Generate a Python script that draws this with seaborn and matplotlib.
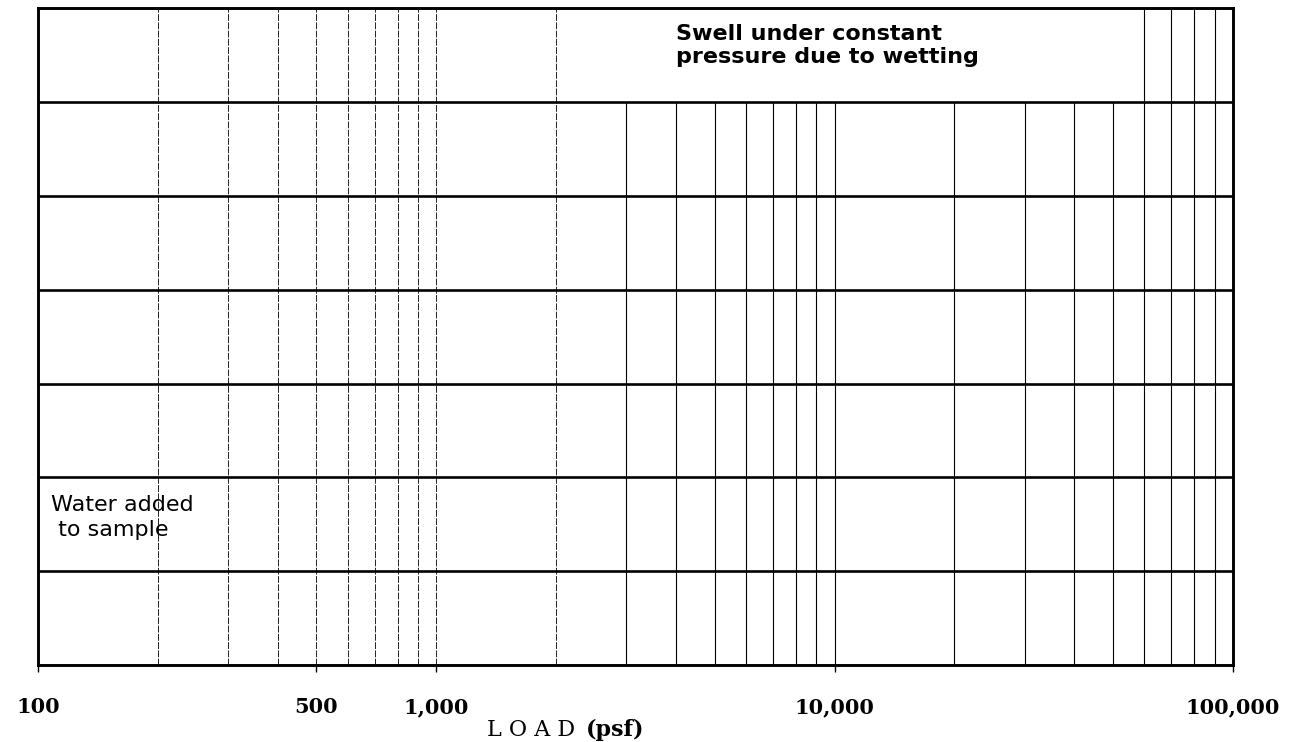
import numpy as np
import matplotlib
matplotlib.use("Agg")
import matplotlib.pyplot as plt
import seaborn as sns

# log-paper grid lines (psf)
minor_lines = [200, 300, 400, 500, 600, 700, 800, 900, 1000,
               2000, 3000, 4000, 5000, 6000, 7000, 8000, 9000, 10000,
               20000, 30000, 40000, 50000, 60000, 70000, 80000, 90000]
# lines hidden behind the note in the top band
hidden_top = [3000, 4000, 5000, 6000, 7000, 8000, 9000, 10000,
              20000, 30000, 40000, 50000]
band_levels = [1, 2, 3, 4, 5, 6]
tick_values = [100, 500, 1000, 10000, 100000]
tick_labels = ["100", "500", "1,000", "10,000", "100,000"]

sns.set_theme(style="white")
plt.rcParams['font.family'] = ['DejaVu Sans']
plt.rcParams['text.color'] = 'black'
plt.rcParams['xtick.color'] = 'black'

fig = plt.figure(figsize=(13.06, 7.42), dpi=100)
ax = fig.add_axes([0.029, 0.1038, 0.915, 0.885])
ax.set_xscale("log")
ax.set_xlim(100, 100000)
ax.set_ylim(0, 7)

for x in minor_lines:
    top = 6 / 7 if x in hidden_top else 1.0
    # the low-load part of the printed sheet looks broken / faint
    if x <= 2000:
        ax.axvline(x, ymin=0, ymax=top, color="#222222", lw=0.7,
                   dashes=(7, 1.5))
    else:
        ax.axvline(x, ymin=0, ymax=top, color="black", lw=0.8)

for y in band_levels:
    ax.axhline(y, color="black", lw=1.9)

for side in ["left", "right", "top", "bottom"]:
    ax.spines[side].set_visible(True)
    ax.spines[side].set_color("black")
    ax.spines[side].set_linewidth(2.1)

ax.set_yticks([])
ax.set_xticks(tick_values)
ax.xaxis.set_minor_locator(matplotlib.ticker.NullLocator())
ax.set_xticklabels(tick_labels, family="DejaVu Serif", fontweight="bold", fontsize=15)
ax.tick_params(axis="x", bottom=True, length=5, width=1, color="black", pad=18)
ax.grid(False)

ax.text(4000, 6.6, "Swell under constant\npressure due to wetting",
        ha="left", va="center", fontsize=16, fontweight="bold",
        linespacing=1.2)
ax.text(108, 1.57, "Water added\n to sample", ha="left", va="center",
        fontsize=16, linespacing=1.35)

fig.text(0.373, 0.008, "L O A D", ha="left", va="baseline",
         family="DejaVu Serif", fontsize=16)
fig.text(0.4487, 0.008, "(psf)", ha="left", va="baseline",
         family="DejaVu Serif", fontweight="bold", fontsize=16)

fig.savefig("out.png", dpi=100)
